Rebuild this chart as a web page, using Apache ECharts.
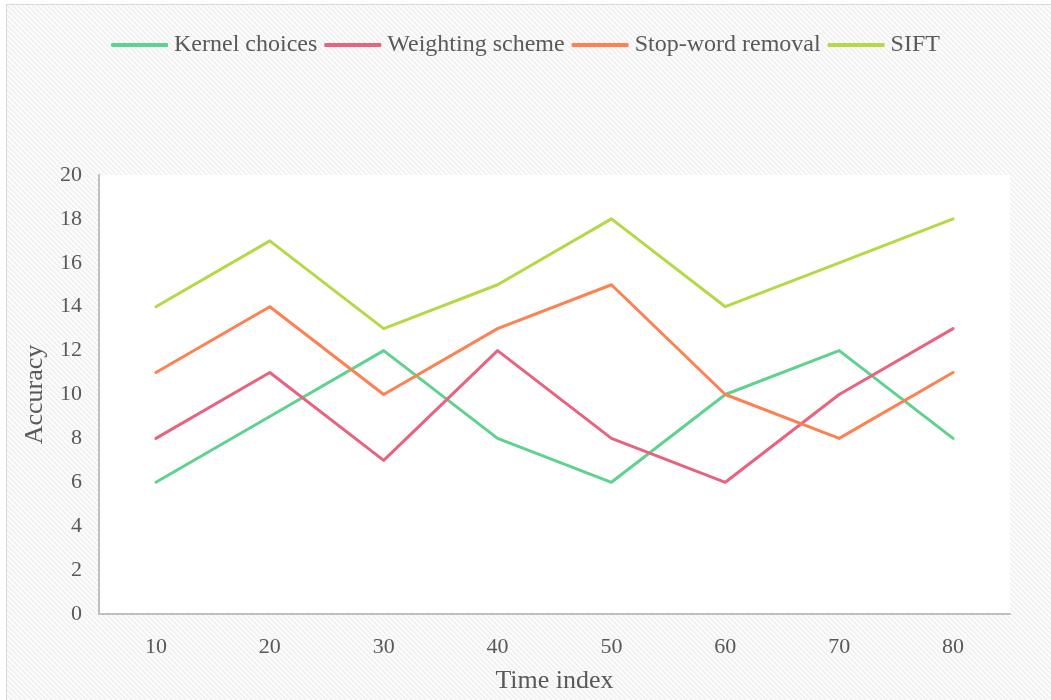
<!DOCTYPE html>
<html>
<head>
<meta charset="utf-8">
<script src="https://cdn.jsdelivr.net/npm/echarts@6/dist/echarts.min.js"></script>
<style>
  html, body { margin: 0; padding: 0; width: 1051px; height: 700px; overflow: hidden; background: #ffffff; }
  #frame {
    position: absolute; left: 6px; top: 4px; width: 1060px; height: 720px;
    border: 1px solid #d9d9d9;
    background-color: #fcfcfc;
    background-image: url("data:image/svg+xml;utf8,<svg xmlns='http://www.w3.org/2000/svg' width='5' height='5'><path d='M-1,-1 L6,6 M-1,4 L1,6 M4,-1 L6,1' stroke='%23ececec' stroke-width='1.2'/></svg>");
    background-size: 5px 5px;
  }
  #chart { position: absolute; left: 0; top: 0; width: 1051px; height: 700px; }
</style>
</head>
<body>
<div id="frame"></div>
<div id="chart"></div>
<script>
// Accuracy per time index for each method
const timeIndex = ['10', '20', '30', '40', '50', '60', '70', '80'];
const kernelChoices = [6, 9, 12, 8, 6, 10, 12, 8];
const weightingScheme = [8, 11, 7, 12, 8, 6, 10, 13];
const stopWordRemoval = [11, 14, 10, 13, 15, 10, 8, 11];
const sift = [14, 17, 13, 15, 18, 14, 16, 18];

const seriesNames = ['Kernel choices', 'Weighting scheme', 'Stop-word removal', 'SIFT'];
const seriesValues = [kernelChoices, weightingScheme, stopWordRemoval, sift];
const seriesColors = ['#5ed28e', '#e8637f', '#fd8152', '#b5d846'];

const font = 'Liberation Serif, Times New Roman, serif';
const textColor = '#595959';

const chart = echarts.init(document.getElementById('chart'));
chart.setOption({
  backgroundColor: 'transparent',
  animation: false,
  legend: {
    top: 28,
    left: 'center',
    itemWidth: 57,
    itemHeight: 4,
    itemGap: 7,
    icon: 'roundRect',
    textStyle: { fontFamily: font, fontSize: 24, color: textColor, padding: [0, 0, 0, 1] },
    data: seriesNames
  },
  grid: {
    left: 99, right: 41, top: 175, bottom: 86,
    outerBoundsMode: 'none',
    containLabel: false,
    show: true, backgroundColor: '#ffffff', borderWidth: 0
  },
  xAxis: {
    type: 'category',
    data: timeIndex,
    boundaryGap: true,
    name: 'Time index',
    nameLocation: 'middle',
    nameGap: 54,
    nameTextStyle: { fontFamily: font, fontSize: 26, color: textColor },
    axisLine: { show: true, lineStyle: { color: '#bfbfbf', width: 2 } },
    axisTick: { show: false },
    axisLabel: { fontFamily: font, fontSize: 22, color: textColor, margin: 22 },
    splitLine: { show: false }
  },
  yAxis: {
    type: 'value',
    min: 0, max: 20, interval: 2,
    name: 'Accuracy',
    nameLocation: 'middle',
    nameGap: 51,
    nameTextStyle: { fontFamily: font, fontSize: 26, color: textColor },
    axisLine: { show: true, lineStyle: { color: '#bfbfbf', width: 2 } },
    axisTick: { show: false },
    axisLabel: { fontFamily: font, fontSize: 22, color: textColor, margin: 17 },
    splitLine: { show: false }
  },
  series: seriesNames.map((name, i) => ({
    name: name,
    type: 'line',
    data: seriesValues[i],
    showSymbol: false,
    symbol: 'none',
    lineStyle: { color: seriesColors[i], width: 3, cap: 'round', join: 'round' },
    itemStyle: { color: seriesColors[i] }
  }))
});
</script>
</body>
</html>
